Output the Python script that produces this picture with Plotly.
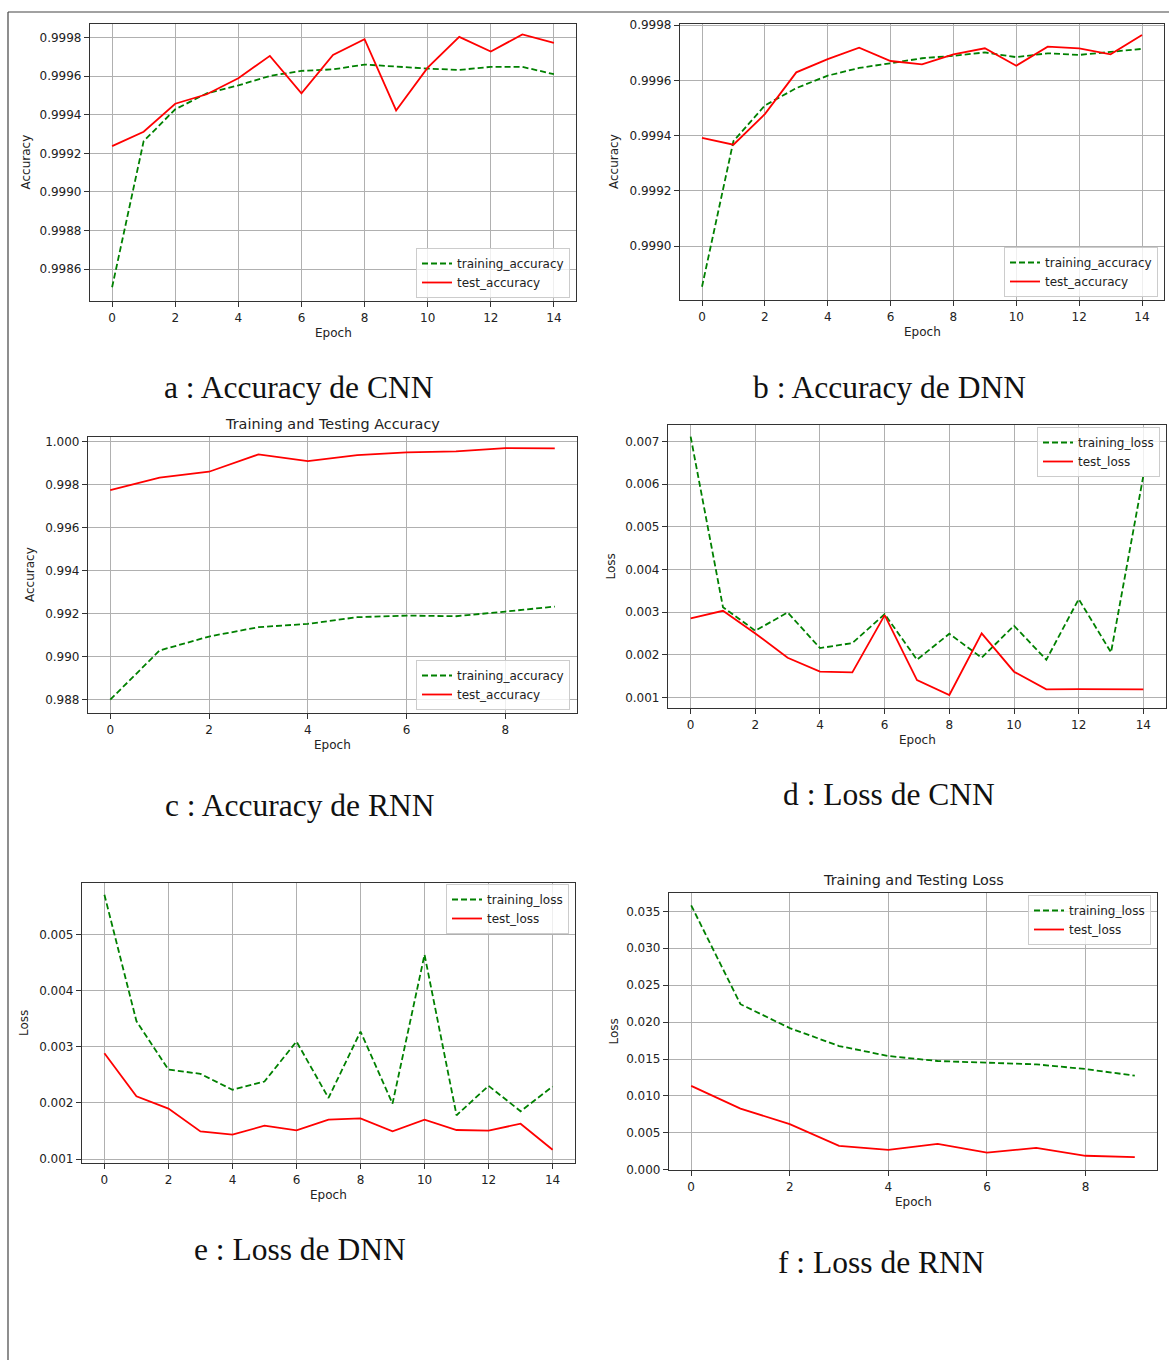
import plotly.graph_objects as go

W, H = 1169, 1360

# ---------------- data ----------------
epochs15 = [0, 1, 2, 3, 4, 5, 6, 7, 8, 9, 10, 11, 12, 13, 14]
epochs10 = [0, 1, 2, 3, 4, 5, 6, 7, 8, 9]

cnn_train_acc = [0.998506, 0.999263, 0.999428, 0.999511, 0.999552, 0.999601, 0.999627, 0.999635,
                 0.999660, 0.999648, 0.999639, 0.999632, 0.999648, 0.999648, 0.999610]
cnn_test_acc = [0.999237, 0.999312, 0.999457, 0.999506, 0.999589, 0.999705, 0.999511, 0.999710,
                0.999791, 0.999422, 0.999644, 0.999803, 0.999727, 0.999816, 0.999772]

dnn_train_acc = [0.998853, 0.999380, 0.999509, 0.999572, 0.999617, 0.999645, 0.999662, 0.999680,
                 0.999689, 0.999701, 0.999684, 0.999698, 0.999692, 0.999704, 0.999714]
dnn_test_acc = [0.999392, 0.999367, 0.999478, 0.999629, 0.999677, 0.999718, 0.999670, 0.999658,
                0.999694, 0.999716, 0.999653, 0.999722, 0.999716, 0.999694, 0.999764]

rnn_train_acc = [0.988000, 0.990286, 0.990934, 0.991367, 0.991521, 0.991830, 0.991907, 0.991876,
                 0.992093, 0.992324]
rnn_test_acc = [0.997737, 0.998309, 0.998587, 0.999390, 0.999081, 0.999359, 0.999483, 0.999529,
                0.999683, 0.999668]

cnn_train_loss = [0.007117, 0.003117, 0.002563, 0.002992, 0.002156, 0.002273, 0.002953, 0.001883,
                  0.002492, 0.001930, 0.002680, 0.001883, 0.003305, 0.002055, 0.006200]
cnn_test_loss = [0.002852, 0.003031, 0.002500, 0.001930, 0.001602, 0.001586, 0.002930, 0.001406,
                 0.001055, 0.002500, 0.001602, 0.001188, 0.001195, 0.001195, 0.001188]

dnn_train_loss = [0.005713, 0.003459, 0.002594, 0.002519, 0.002234, 0.002382, 0.003095, 0.002089,
                  0.003273, 0.001988, 0.004643, 0.001780, 0.002305, 0.001851, 0.002293]
dnn_test_loss = [0.002887, 0.002119, 0.001899, 0.001493, 0.001434, 0.001594, 0.001511, 0.001701,
                 0.001725, 0.001493, 0.001701, 0.001517, 0.001505, 0.001630, 0.001166]

rnn_train_loss = [0.035813, 0.022425, 0.019187, 0.016762, 0.015406, 0.014729, 0.014503, 0.014277,
                  0.013645, 0.012742]
rnn_test_loss = [0.011355, 0.008284, 0.006174, 0.003238, 0.002696, 0.003509, 0.002335, 0.002967,
                 0.001897, 0.001716]

xticks15 = [0, 2, 4, 6, 8, 10, 12, 14]
xticks10 = [0, 2, 4, 6, 8]
yticks_a = [0.9986, 0.9988, 0.9990, 0.9992, 0.9994, 0.9996, 0.9998]
yticks_b = [0.9990, 0.9992, 0.9994, 0.9996, 0.9998]
yticks_c = [0.988, 0.990, 0.992, 0.994, 0.996, 0.998, 1.000]
yticks_d = [0.001, 0.002, 0.003, 0.004, 0.005, 0.006, 0.007]
yticks_e = [0.001, 0.002, 0.003, 0.004, 0.005]
yticks_f = [0.000, 0.005, 0.010, 0.015, 0.020, 0.025, 0.030, 0.035]

captions = ["a : Accuracy de CNN", "b : Accuracy de DNN", "c : Accuracy de RNN",
            "d : Loss de CNN", "e : Loss de DNN", "f : Loss de RNN"]

# ---------------- layout helpers ----------------
FONT = "DejaVu Sans"
GREEN = "#008000"
RED = "#ff0000"


def px_x(x):
    return x / W


def px_y(y):
    return 1 - y / H


panels = [
    dict(x0=90, x1=576, y0=24, y1=301, xr=[-0.7, 14.7], yr=[0.998435, 0.99987],
         xt=xticks15, yt=yticks_a, fmt=".4f", x=epochs15, tr=cnn_train_acc, te=cnn_test_acc,
         names=("training_accuracy", "test_accuracy"), ylab="Accuracy", ylx=25,
         leg=(570, 298, "bottom"), title=None),
    dict(x0=680, x1=1164, y0=24, y1=300, xr=[-0.7, 14.7], yr=[0.998805, 0.999804],
         xt=xticks15, yt=yticks_b, fmt=".4f", x=epochs15, tr=dnn_train_acc, te=dnn_test_acc,
         names=("training_accuracy", "test_accuracy"), ylab="Accuracy", ylx=614,
         leg=(1158, 297, "bottom"), title=None),
    dict(x0=88, x1=577, y0=437, y1=713, xr=[-0.45, 9.45], yr=[0.987382, 1.0002],
         xt=xticks10, yt=yticks_c, fmt=".3f", x=epochs10, tr=rnn_train_acc, te=rnn_test_acc,
         names=("training_accuracy", "test_accuracy"), ylab="Accuracy", ylx=30,
         leg=(570, 710, "bottom"), title="Training and Testing Accuracy"),
    dict(x0=668, x1=1166, y0=425, y1=708, xr=[-0.7, 14.7], yr=[0.00075, 0.00739],
         xt=xticks15, yt=yticks_d, fmt=".3f", x=epochs15, tr=cnn_train_loss, te=cnn_test_loss,
         names=("training_loss", "test_loss"), ylab="Loss", ylx=610,
         leg=(1160, 427, "top"), title=None),
    dict(x0=82, x1=575, y0=883, y1=1163, xr=[-0.7, 14.7], yr=[0.000929, 0.005921],
         xt=xticks15, yt=yticks_e, fmt=".3f", x=epochs15, tr=dnn_train_loss, te=dnn_test_loss,
         names=("training_loss", "test_loss"), ylab="Loss", ylx=24,
         leg=(569, 884, "top"), title=None),
    dict(x0=669, x1=1157, y0=893, y1=1170, xr=[-0.45, 9.45], yr=[-0.00003, 0.037484],
         xt=xticks10, yt=yticks_f, fmt=".3f", x=epochs10, tr=rnn_train_loss, te=rnn_test_loss,
         names=("training_loss", "test_loss"), ylab="Loss", ylx=613,
         leg=(1151, 895, "top"), title="Training and Testing Loss"),
]

caption_pos = [(299, 387), (889, 387), (300, 805), (889, 794), (300, 1249), (881, 1262)]

fig = go.Figure()
layout = dict(
    width=W, height=H, margin=dict(l=0, r=0, t=0, b=0),
    paper_bgcolor="white", plot_bgcolor="white", showlegend=True,
    font=dict(family=FONT, size=12, color="#222"),
)
annotations = []
shapes = []

for i, p in enumerate(panels):
    n = i + 1
    sfx = "" if n == 1 else str(n)
    xa = "x" + sfx
    ya = "y" + sfx
    legname = "legend" + sfx
    common = dict(showgrid=True, gridcolor="#b0b0b0", gridwidth=1, showline=True, mirror=True,
                  linecolor="#333333", linewidth=1.2, ticks="outside", ticklen=5,
                  tickcolor="#333333", tickwidth=1, zeroline=False, automargin=False,
                  tickfont=dict(family=FONT, size=12, color="#222"))
    layout["xaxis" + sfx] = dict(domain=[px_x(p["x0"]), px_x(p["x1"])], range=p["xr"],
                                 tickmode="array", tickvals=p["xt"], anchor=ya, **common)
    layout["yaxis" + sfx] = dict(domain=[px_y(p["y1"]), px_y(p["y0"])], range=p["yr"],
                                 tickmode="array", tickvals=p["yt"], tickformat=p["fmt"],
                                 anchor=xa, **common)
    fig.add_trace(go.Scatter(x=p["x"], y=p["tr"], mode="lines", name=p["names"][0],
                             line=dict(color=GREEN, width=1.8, dash="6px,3px"),
                             xaxis=xa, yaxis=ya, legend=legname))
    fig.add_trace(go.Scatter(x=p["x"], y=p["te"], mode="lines", name=p["names"][1],
                             line=dict(color=RED, width=1.8),
                             xaxis=xa, yaxis=ya, legend=legname))
    lx, ly, anc = p["leg"]
    layout[legname] = dict(x=px_x(lx), y=px_y(ly), xanchor="right", yanchor=anc,
                           bgcolor="rgba(255,255,255,0.8)", bordercolor="#cccccc", borderwidth=1,
                           font=dict(family=FONT, size=12, color="#222"),
                           itemwidth=30, tracegroupgap=0)
    xc = (p["x0"] + p["x1"]) / 2
    annotations.append(dict(text="Epoch", x=px_x(xc), y=px_y(p["y1"] + 32), xref="paper",
                            yref="paper", showarrow=False, xanchor="center", yanchor="middle",
                            font=dict(family=FONT, size=12, color="#222")))
    yc = (p["y0"] + p["y1"]) / 2
    annotations.append(dict(text=p["ylab"], x=px_x(p["ylx"]), y=px_y(yc), xref="paper",
                            yref="paper", showarrow=False, textangle=-90, xanchor="center",
                            yanchor="middle", font=dict(family=FONT, size=12, color="#222")))
    if p["title"]:
        annotations.append(dict(text=p["title"], x=px_x(xc), y=px_y(p["y0"] - 13), xref="paper",
                                yref="paper", showarrow=False, xanchor="center", yanchor="middle",
                                font=dict(family=FONT, size=14.4, color="#222")))
    cx, cy = caption_pos[i]
    annotations.append(dict(text=captions[i], x=px_x(cx), y=px_y(cy), xref="paper", yref="paper",
                            showarrow=False, xanchor="center", yanchor="middle",
                            font=dict(family="Liberation Serif", size=31.5, color="#111")))

# page frame lines
shapes.append(dict(type="line", xref="paper", yref="paper", x0=px_x(8), x1=1, y0=px_y(12),
                   y1=px_y(12), line=dict(color="#444444", width=1.2)))
shapes.append(dict(type="line", xref="paper", yref="paper", x0=px_x(8), x1=px_x(8), y0=px_y(12),
                   y1=0, line=dict(color="#444444", width=1.2)))

layout["annotations"] = annotations
layout["shapes"] = shapes
fig.update_layout(**layout)

fig.write_html("out.html", config={"displayModeBar": False},
               post_script="document.body.style.margin='0';document.body.style.overflow='hidden';")
